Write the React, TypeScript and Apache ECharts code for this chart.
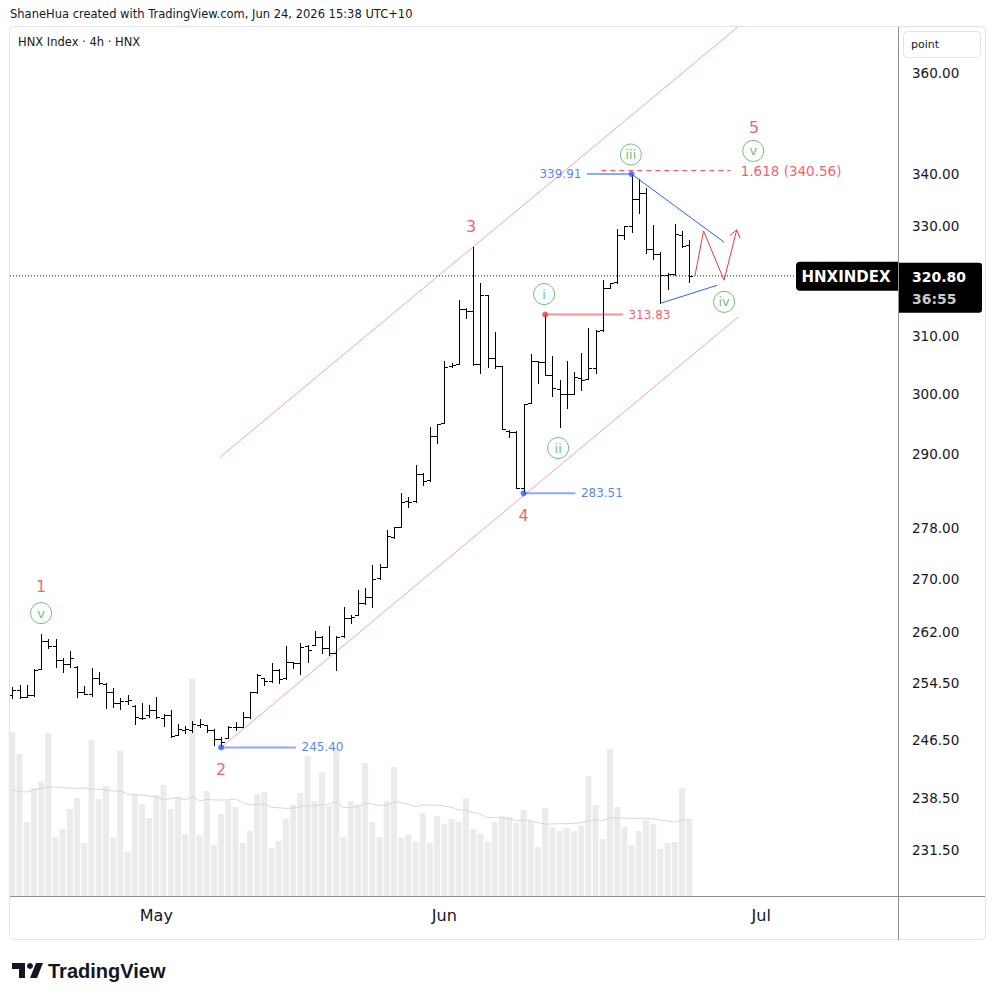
import React, { useEffect, useRef } from "react";
import * as echarts from "echarts";

// ---------- DATA (4h bars, HNX Index) ----------
const opens = [252.8,253.6,252.6,252.8,256.6,260.7,260.0,257.9,257.3,256.9,253.2,253.0,255.3,254.4,253.2,251.6,252.0,251.3,249.6,250.0,250.7,249.6,249.9,247.2,247.9,247.9,248.6,248.5,247.8,246.6,246.7,248.3,248.3,249.7,253.3,255.3,254.8,256.4,255.2,257.6,257.4,259.9,260.1,261.3,259.6,258.9,261.4,264.1,264.6,266.4,267.3,270.2,271.9,276.6,278.2,282.2,282.2,286.6,285.6,292.9,295.0,304.7,305.2,314.8,314.5,305.1,317.3,306.1,304.7,293.8,293.6,284.4,298.4,305.6,305.5,303.3,300.9,300.0,300.0,302.8,302.5,304.4,311.0,318.6,319.6,328.3,330.0,335.1,336.2,325.7,324.8,320.9,321.1,328.4,326.4];
const highs = [253.9,254.24,254.24,256.52,261.72,260.98,260.98,258.14,259.21,257.0,254.09,256.66,256.16,254.48,253.77,252.33,252.81,251.37,251.62,251.37,252.47,250.08,250.66,248.66,248.42,249.08,249.37,248.52,247.92,246.89,248.42,248.98,250.33,253.28,255.78,255.34,257.4,256.52,259.95,257.64,260.35,260.1,262.16,261.42,262.9,261.42,265.72,264.56,268.35,268.6,272.18,272.34,277.73,278.15,283.51,282.96,288.1,286.83,294.33,294.87,305.65,305.35,316.43,314.94,326.05,319.54,317.33,310.77,304.77,293.88,293.77,298.27,306.87,305.65,313.83,306.52,302.35,305.7,303.78,306.99,311.36,311.06,320.03,319.54,329.38,329.99,339.91,338.87,337.16,330.3,325.24,321.24,330.49,329.12,327.41];
const lows = [252.4,252.33,252.47,252.7,256.52,259.61,256.81,256.16,256.9,252.56,252.91,252.66,254.38,250.9,251.13,250.76,251.52,248.75,249.33,249.7,249.47,248.41,246.89,247.13,247.36,247.59,248.28,247.59,245.74,245.4,246.67,247.83,248.28,249.47,253.13,254.24,254.71,254.48,255.19,256.66,255.82,257.64,260.1,258.87,258.62,256.41,261.32,263.39,264.56,266.22,265.72,270.11,271.82,276.44,278.15,281.35,282.16,284.92,285.51,291.69,294.99,304.55,305.12,313.14,304.95,303.6,304.55,304.37,294.0,292.68,284.31,283.51,298.39,301.79,303.25,299.63,294.43,297.54,299.97,300.65,302.47,303.5,310.94,318.53,319.54,327.53,328.94,332.52,325.05,323.83,315.84,318.35,320.93,326.16,319.72];
const closes = [253.6,252.56,252.81,256.41,260.69,259.95,257.89,257.3,258.23,253.19,252.95,255.34,254.48,253.19,251.62,251.99,252.09,249.61,249.47,250.65,249.61,249.94,246.99,247.92,247.92,248.62,248.62,247.83,246.57,246.2,248.28,248.28,249.7,253.28,255.67,254.81,256.41,255.1,257.64,257.4,259.85,259.36,261.32,259.61,258.87,261.32,264.06,264.3,266.42,267.33,270.11,271.91,276.65,278.15,282.16,282.16,286.62,285.51,292.89,294.87,304.65,304.95,314.76,314.51,305.07,317.33,306.12,304.77,294.0,293.6,284.31,298.27,305.65,305.53,303.25,300.94,299.97,299.97,302.82,302.35,304.37,310.94,318.53,319.54,328.33,329.99,335.06,336.21,325.68,324.81,320.93,321.11,328.45,326.35,320.8];
const volumes = [164,142,74,108,115,163,59,67,87,98,53,156,97,110,58,145,44,101,92,78,101,111,87,99,62,217,61,105,51,82,95,89,53,65,102,104,48,55,77,91,103,140,95,124,90,148,59,95,92,133,74,59,95,129,58,61,54,83,53,80,72,77,74,98,67,62,54,74,80,79,73,86,75,49,88,69,65,68,65,71,120,91,57,147,89,69,51,65,76,72,47,53,54,108,77];
const volumeMA = [106,104.3,104,106,107.5,109.3,109,108.3,107.7,107.7,108,107,106.7,106,105,105,102,101.5,101,100,99.3,96,97.5,98.3,96,99.3,95,96.7,96,96,96,97,93.3,91,91.5,92,88.7,88.2,87.7,87.7,89.3,90,90.5,91,91.7,94.3,88.7,88.7,89.3,92.7,92,90.7,90.7,94.3,93.3,91.7,89.3,91,91,91,90,88.7,86,86,83.3,82,78.3,78.7,78.3,77.3,75.3,76,75,73.3,72,72,72.3,72.3,72.7,73.3,75.3,76,75.3,78.3,78,77.7,77.7,77.7,77.7,77,76,75,73.7,76,77];

const priceTicks = [360, 340, 330, 310, 300, 290, 278, 270, 262, 254.5, 246.5, 238.5, 231.5];
const monthTicks = [20, 60, 104];
const monthLabels = ["May", "Jun", "Jul"];
const PRICE_TOP = 369.53;
const PRICE_BOTTOM = 225.53;
const BAR_MIN = -0.32;
const BAR_MAX = 123.0;
const VOLUME_MAX = 869;
const LAST_PRICE = 320.8;
const COUNTDOWN = "36:55";
const SYMBOL = "HNXINDEX";
const HEADER = "ShaneHua created with TradingView.com, Jun 24, 2026 15:38 UTC+10";
const TITLE = "HNX Index · 4h · HNX";

// drawings: [barIndex, price]
const channelLower = [[29, 245.4], [100.8, 313.4]];
const channelUpper = [[28.85, 289.4], [100.8, 369.6]];
const triangleUpper = [[86, 339.91], [98.85, 327.0]];
const triangleLower = [[90, 315.84], [97.9, 319.1]];
const zigzag = [[94.8, 320.8], [96.0, 329.1], [98.85, 320.0], [100.6, 329.3]];
const fibFrom = 81.8;
const fibTo = 99.7;
const fibPrice = 340.56;
const fibText = "1.618 (340.56)";
// level markers: dot at bar, line to end
const levelBars = [29, 71, 74, 86];
const levelEnds = [39.4, 78.2, 84.8, 79.8];
const levelPrices = [245.4, 283.51, 313.83, 339.91];
const levelIsRed = [false, false, true, false];
const majorWaves = [["1", 4, 268.95], ["2", 29, 242.4], ["3", 63.7, 330.0], ["4", 71, 280.0], ["5", 103, 349.1]];
const minorWaves = [["v", 4, 264.86], ["i", 73.85, 317.5], ["ii", 75.8, 290.9], ["iii", 85.9, 343.7], ["iv", 98.85, 316.1], ["v", 102.9, 344.4]];

// ---------- STYLE ----------
const FONT = "DejaVu Sans";
const TEXT = "#131722";
const RED = "#f23645";
const BLUE = "#2962ff";
const GREEN = "#4caf50";
const LN = Math.log;

const lineSeries = (pts: number[][], color: string, width: number, type: any = "solid", z = 6) => ({
  type: "line",
  data: pts.map(([b, p]) => [b, LN(p)]),
  symbol: "none",
  silent: true,
  z,
  lineStyle: { color, width, type },
});

function buildOption(): any {
  const ohlc = opens.map((o, i) => [i, LN(o), LN(highs[i]), LN(lows[i]), LN(closes[i])]);
  const series: any[] = [];
  series.push({
    type: "bar",
    yAxisIndex: 1,
    data: volumes.map((v, i) => [i, v]),
    barWidth: 6,
    itemStyle: { color: "#ebebeb" },
    silent: true,
    z: 1,
  });
  series.push({
    type: "line",
    yAxisIndex: 1,
    data: volumeMA.map((v, i) => [i, v]),
    symbol: "none",
    silent: true,
    z: 2,
    lineStyle: { color: "#d6d6d6", width: 1 },
  });
  series.push(lineSeries(channelLower, "rgba(242,54,69,0.45)", 1, "solid", 3));
  series.push(lineSeries(channelUpper, "rgba(242,54,69,0.45)", 1, "solid", 3));
  series.push(lineSeries([[BAR_MIN, LAST_PRICE], [BAR_MAX, LAST_PRICE]], TEXT, 1, [1, 2], 4));
  series.push({
    type: "custom",
    data: ohlc,
    encode: { x: 0, y: [1, 2, 3, 4] },
    silent: true,
    z: 5,
    renderItem: (_p: any, api: any) => {
      const i = api.value(0);
      const pO = api.coord([i, api.value(1)]);
      const pH = api.coord([i, api.value(2)]);
      const pL = api.coord([i, api.value(3)]);
      const pC = api.coord([i, api.value(4)]);
      const x = Math.round(pH[0]) + 0.5;
      const yo = Math.round(pO[1]) + 0.5;
      const yc = Math.round(pC[1]) + 0.5;
      const s = { stroke: "#000000", lineWidth: 1 };
      return {
        type: "group",
        children: [
          { type: "line", shape: { x1: x, y1: Math.round(pH[1]), x2: x, y2: Math.round(pL[1]) + 1 }, style: s },
          { type: "line", shape: { x1: x - 3.5, y1: yo, x2: x, y2: yo }, style: s },
          { type: "line", shape: { x1: x, y1: yc, x2: x + 3.5, y2: yc }, style: s },
        ],
      };
    },
  });
  // level lines, dots, labels
  levelBars.forEach((b, k) => {
    const p = levelPrices[k];
    const red = levelIsRed[k];
    series.push(lineSeries([[b, p], [levelEnds[k], p]], red ? "rgba(242,54,69,0.55)" : "rgba(41,98,255,0.55)", 2, "solid", 6));
    series.push({
      type: "scatter",
      data: [[b, LN(p)]],
      symbol: "circle",
      symbolSize: 6,
      itemStyle: { color: red ? RED : BLUE },
      silent: true,
      z: 8,
    });
    const right = levelEnds[k] > b;
    series.push({
      type: "scatter",
      data: [{ value: [levelEnds[k], LN(p)], name: p.toFixed(2) }],
      symbolSize: 1,
      itemStyle: { color: "transparent" },
      silent: true,
      z: 8,
      label: {
        show: true,
        formatter: "{b}",
        position: right ? "right" : "left",
        distance: 5,
        color: red ? RED : BLUE,
        fontSize: 12,
        fontFamily: FONT,
      },
    });
  });
  series.push(lineSeries(triangleUpper, BLUE, 1, "solid", 7));
  series.push(lineSeries(triangleLower, BLUE, 1, "solid", 7));
  series.push(lineSeries([[fibFrom, fibPrice], [fibTo, fibPrice]], RED, 1, [5, 4], 7));
  series.push({
    type: "scatter",
    data: [{ value: [fibTo, LN(fibPrice)], name: fibText }],
    symbolSize: 1,
    itemStyle: { color: "transparent" },
    silent: true,
    z: 8,
    label: { show: true, formatter: "{b}", position: "right", distance: 10, color: RED, fontSize: 13.5, fontFamily: FONT },
  });
  series.push({
    type: "custom",
    data: [[zigzag[0][0], LN(zigzag[0][1])]],
    encode: { x: 0, y: 1 },
    silent: true,
    z: 8,
    renderItem: (_p: any, api: any) => {
      const pts = zigzag.map(([b, p]) => api.coord([b, LN(p)]));
      const n = pts.length;
      const [tx, ty] = pts[n - 1];
      const [px, py] = pts[n - 2];
      const len = Math.hypot(tx - px, ty - py);
      const bx = -(tx - px) / len;
      const by = -(ty - py) / len;
      const a = Math.PI / 5;
      const L = 9;
      const arm = (s: number) => {
        const c = Math.cos(s * a);
        const si = Math.sin(s * a);
        return [tx + L * (bx * c - by * si), ty + L * (bx * si + by * c)];
      };
      const st = { stroke: RED, fill: "none", lineWidth: 1 };
      return {
        type: "group",
        children: [
          { type: "polyline", shape: { points: pts }, style: st },
          { type: "polyline", shape: { points: [arm(1), [tx, ty], arm(-1)] }, style: st },
        ],
      };
    },
  });
  series.push({
    type: "scatter",
    data: majorWaves.map(([t, b, p]) => ({ value: [b, LN(p as number)], name: t })),
    symbolSize: 1,
    itemStyle: { color: "transparent" },
    silent: true,
    z: 9,
    label: { show: true, formatter: "{b}", position: "inside", color: RED, fontSize: 16, fontFamily: FONT },
  });
  series.push({
    type: "scatter",
    data: minorWaves.map(([t, b, p]) => ({ value: [b, LN(p as number)], name: t })),
    symbol: "circle",
    symbolSize: 21,
    itemStyle: { color: "#ffffff", borderColor: GREEN, borderWidth: 1 },
    silent: true,
    z: 9,
    label: { show: true, formatter: "{b}", position: "inside", color: GREEN, fontSize: 13, fontFamily: FONT },
  });

  return {
    animation: false,
    backgroundColor: "#ffffff",
    textStyle: { fontFamily: FONT },
    grid: { left: 10, right: 96, top: 27, bottom: 104, containLabel: false, outerBoundsMode: "none" },
    xAxis: {
      type: "value",
      min: BAR_MIN,
      max: BAR_MAX,
      axisLine: { show: false },
      axisTick: { show: false },
      splitLine: { show: false },
      axisLabel: {
        customValues: monthTicks,
        formatter: (v: number) => {
          const k = monthTicks.indexOf(v);
          return k >= 0 ? monthLabels[k] : "";
        },
        color: TEXT,
        fontSize: 16,
        fontFamily: FONT,
        margin: 11,
      },
    },
    yAxis: [
      {
        type: "value",
        position: "right",
        min: LN(PRICE_BOTTOM),
        max: LN(PRICE_TOP),
        axisLine: { show: false },
        axisTick: { show: false },
        splitLine: { show: false },
        axisLabel: {
          customValues: priceTicks.map(LN),
          formatter: (v: number) => Math.exp(v).toFixed(2),
          color: TEXT,
          fontSize: 13.5,
          fontFamily: FONT,
          margin: 14,
        },
      },
      { type: "value", min: 0, max: VOLUME_MAX, show: false },
    ],
    series,
  };
}

function buildGraphic(py: number): any[] {
  const txt = (x: number, y: number, text: string, size: number, fill = TEXT, weight: any = "normal", align = "left", family = FONT) => ({
    type: "text",
    x,
    y,
    silent: true,
    z: 100,
    style: { text, fill, fontSize: size, fontWeight: weight, fontFamily: family, align, verticalAlign: "middle" },
  });
  return [
    { type: "rect", silent: true, z: 99, shape: { x: 9.5, y: 26.5, width: 976, height: 913, r: 4 }, style: { fill: "none", stroke: "#e0e3eb", lineWidth: 1 } },
    { type: "line", silent: true, z: 99, shape: { x1: 898.5, y1: 27, x2: 898.5, y2: 940 }, style: { stroke: "#8e8e8e", lineWidth: 1 } },
    { type: "line", silent: true, z: 99, shape: { x1: 10, y1: 896.5, x2: 985, y2: 896.5 }, style: { stroke: "#8e8e8e", lineWidth: 1 } },
    txt(10, 14, HEADER, 11.5),
    txt(18, 42, TITLE, 11.5),
    { type: "rect", silent: true, z: 99, shape: { x: 903.5, y: 31.5, width: 77, height: 26, r: 4 }, style: { fill: "#ffffff", stroke: "#e0e3eb", lineWidth: 1 } },
    txt(911, 44.5, "point", 11),
    { type: "rect", silent: true, z: 99, shape: { x: 899, y: py - 13, width: 83, height: 50, r: [0, 3, 3, 0] }, style: { fill: "#000000" } },
    txt(912, py + 1, LAST_PRICE.toFixed(2), 14, "#ffffff", "bold"),
    txt(912, py + 23, COUNTDOWN, 14, "#c9c9c9", "bold"),
    { type: "rect", silent: true, z: 99, shape: { x: 796, y: py - 14, width: 102, height: 29, r: [4, 0, 0, 4] }, style: { fill: "#000000" } },
    txt(846, py + 1, SYMBOL, 15, "#ffffff", "bold", "center"),
    { type: "polygon", silent: true, z: 100, shape: { points: [[12, 963], [25, 963], [25, 978], [19, 978], [19, 969], [12, 969]] }, style: { fill: TEXT } },
    { type: "circle", silent: true, z: 100, shape: { cx: 30, cy: 966, r: 3 }, style: { fill: TEXT } },
    { type: "polygon", silent: true, z: 100, shape: { points: [[30, 978], [36, 963], [43, 963], [37, 978]] }, style: { fill: TEXT } },
    txt(48, 970.5, "TradingView", 20, TEXT, "bold", "left", "Liberation Sans"),
  ];
}

export default function App() {
  const ref = useRef<HTMLDivElement>(null);
  useEffect(() => {
    const el = ref.current;
    if (!el) return;
    const chart = echarts.init(el, null, { renderer: "svg" });
    chart.setOption(buildOption());
    const py = chart.convertToPixel({ yAxisIndex: 0 } as any, LN(LAST_PRICE)) as unknown as number;
    chart.setOption({ graphic: buildGraphic(py) });
    return () => chart.dispose();
  }, []);
  return <div ref={ref} style={{ position: "absolute", left: 0, top: 0, width: 994, height: 1000, background: "#fff" }} />;
}
